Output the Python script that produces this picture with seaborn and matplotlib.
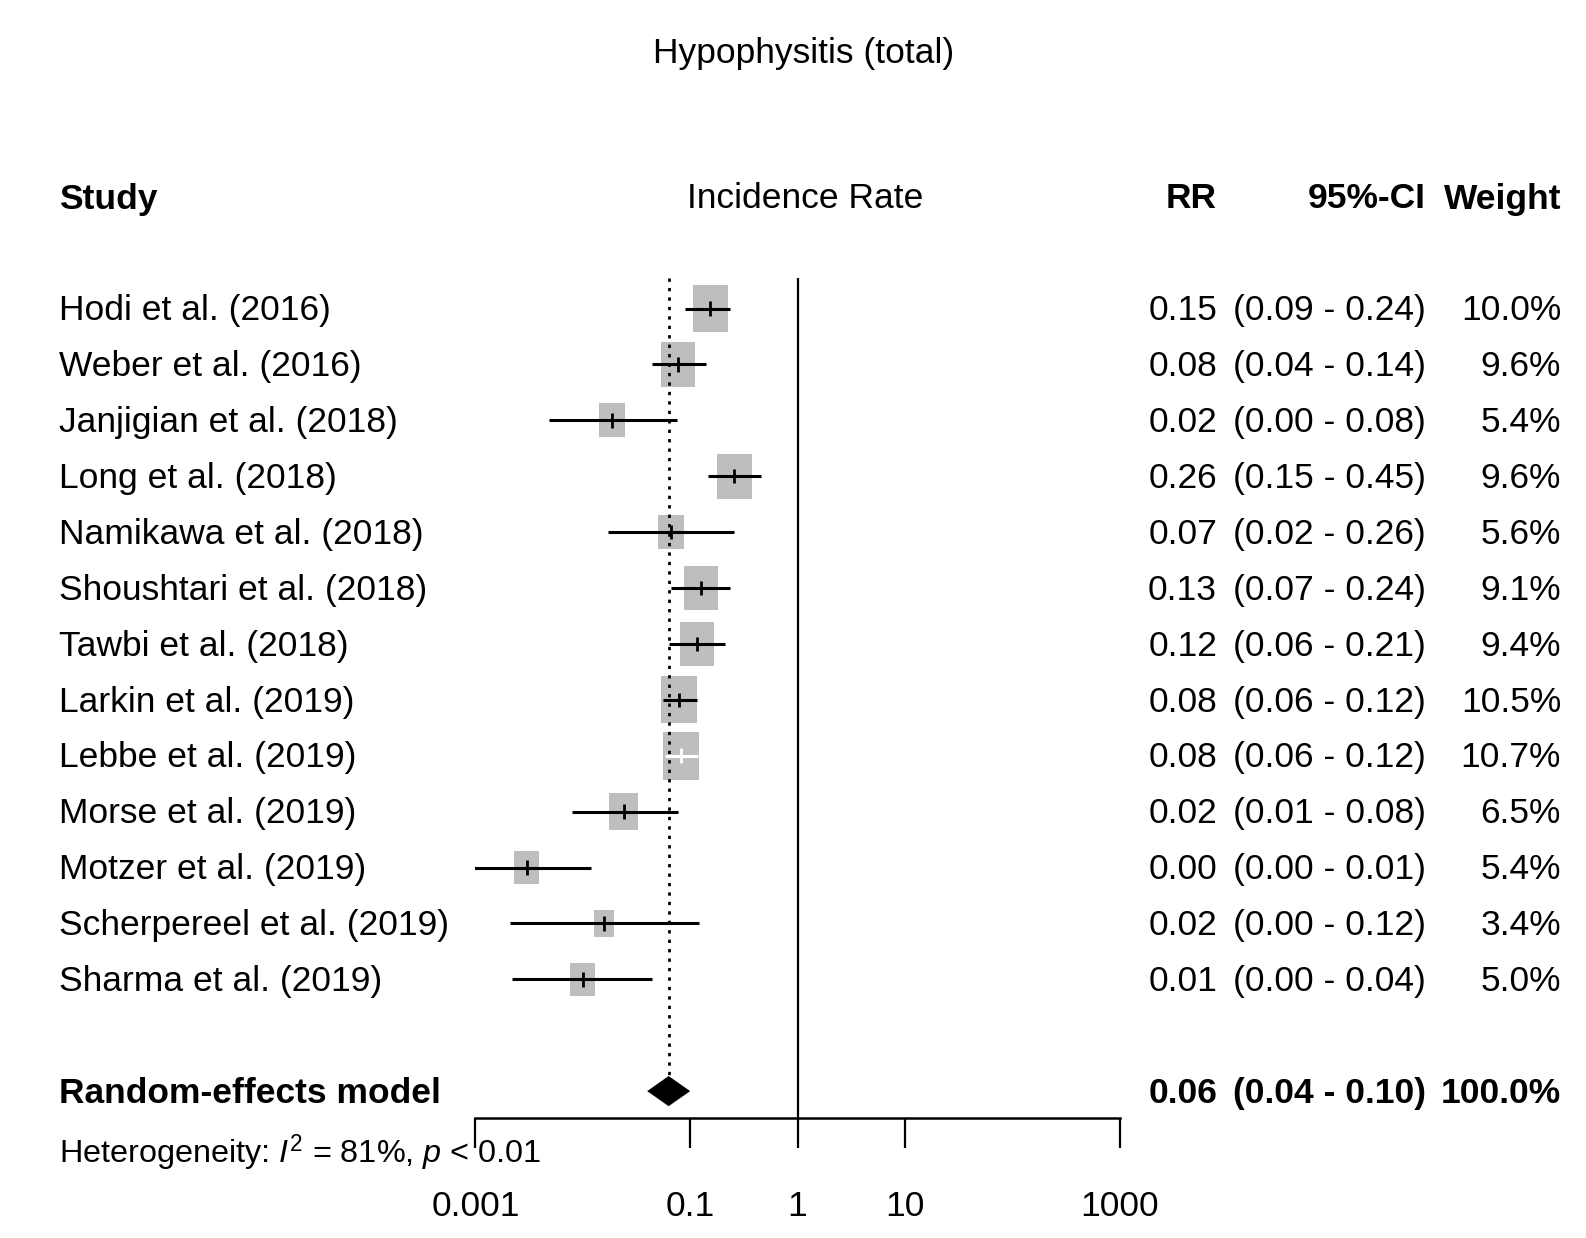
import numpy as np
import pandas as pd
import matplotlib
matplotlib.use("Agg")
import matplotlib.pyplot as plt
import matplotlib.transforms as mtransforms
import seaborn as sns

# ---------------- data ----------------
studies = ["Hodi et al. (2016)", "Weber et al. (2016)", "Janjigian et al. (2018)",
           "Long et al. (2018)", "Namikawa et al. (2018)", "Shoushtari et al. (2018)",
           "Tawbi et al. (2018)", "Larkin et al. (2019)", "Lebbe et al. (2019)",
           "Morse et al. (2019)", "Motzer et al. (2019)", "Scherpereel et al. (2019)",
           "Sharma et al. (2019)"]
rr = [0.154, 0.077, 0.0186, 0.258, 0.066, 0.126, 0.115, 0.078, 0.082, 0.024, 0.003, 0.0157, 0.010]
lower = [0.089, 0.044, 0.0048, 0.146, 0.017, 0.066, 0.063, 0.056, 0.058, 0.008, 0.00074, 0.0021, 0.0022]
upper = [0.236, 0.140, 0.076, 0.453, 0.258, 0.236, 0.212, 0.116, 0.118, 0.0766, 0.012, 0.121, 0.044]
weight = [10.0, 9.6, 5.4, 9.6, 5.6, 9.1, 9.4, 10.5, 10.7, 6.5, 5.4, 3.4, 5.0]

re_label = "Random-effects model"
re_rr, re_lower, re_upper, re_weight = 0.063, 0.0398, 0.100, 100.0
heterogeneity = r"Heterogeneity: $I^2$ = 81%, $p$ < 0.01"
title = "Hypophysitis (total)"
xticks = [0.001, 0.1, 1, 10, 1000]
xticklabels = ["0.001", "0.1", "1", "10", "1000"]

df = pd.DataFrame({"study": studies, "rr": rr, "lower": lower, "upper": upper,
                   "weight": weight, "row": np.arange(len(studies))})
re_row = len(studies) + 1

# ---------------- style ----------------
sns.set_theme(style="white")
fam = ["Liberation Sans", "DejaVu Sans"]
plt.rcParams["font.family"] = fam
plt.rcParams["text.color"] = "black"
plt.rcParams["mathtext.fontset"] = "custom"
plt.rcParams["mathtext.rm"] = "Liberation Sans"
plt.rcParams["mathtext.it"] = "Liberation Sans:italic"
plt.rcParams["mathtext.bf"] = "Liberation Sans:bold"
FS = 25.5

W, H = 1586, 1238
fig = plt.figure(figsize=(W / 100, H / 100), dpi=100)
ax_left, ax_right, ax_bottom_px = 475.4, 1119.7, 1118
ax = fig.add_axes([ax_left / W, (H - ax_bottom_px) / H, (ax_right - ax_left) / W, ax_bottom_px / H])
ax.set_xscale("log")
ax.set_xlim(0.001, 1000)
row0_px, row_step = 308.5, 55.9
ax.set_ylim((ax_bottom_px - row0_px) / row_step, -row0_px / row_step)

# boxes (area proportional to weight); boxes are taller than wide as in the reference
aspect = 0.76
box = [(-aspect / 2, -0.5), (aspect / 2, -0.5), (aspect / 2, 0.5), (-aspect / 2, 0.5), (-aspect / 2, -0.5)]
area_per_pct = 110.0
sns.scatterplot(data=df, x="rr", y="row", size="weight", sizes=(0, area_per_pct * max(weight)),
                size_norm=(0, max(weight)), marker=box, color="#bebebe", edgecolor="none",
                linewidth=0, legend=False, ax=ax, zorder=1)

# line colours: white if CI lies inside the box
fig.canvas.draw()
line_cols = []
for r, lo, hi, w in zip(rr, lower, upper, weight):
    half_px = np.sqrt(area_per_pct * w) * aspect / 2 * 100 / 72
    xr = ax.transData.transform((r, 0))[0]
    xl = ax.transData.transform((lo, 0))[0]
    xh = ax.transData.transform((hi, 0))[0]
    line_cols.append("white" if (xr - xl) <= half_px and (xh - xr) <= half_px else "black")

ax.hlines(df["row"], df["lower"], df["upper"], colors=line_cols, linewidth=2.2, zorder=3)
ax.vlines(df["rr"], df["row"] - 0.13, df["row"] + 0.13, colors=line_cols, linewidth=2.0, zorder=3)

# reference lines
top = -0.55
dh = 0.27
ax.vlines(1, top, (ax_bottom_px - row0_px) / row_step, colors="black", linewidth=1.6, zorder=2)
ax.vlines(re_rr, top, re_row - dh, colors="black", linewidth=2.0, linestyles=(0, (1.2, 2.2)), zorder=2)

# diamond
ax.fill([re_lower, re_rr, re_upper, re_rr], [re_row, re_row - dh, re_row, re_row + dh],
        color="black", zorder=4, linewidth=0)

# axis styling
for s in ["top", "left", "right"]:
    ax.spines[s].set_visible(False)
ax.spines["bottom"].set_color("black")
ax.spines["bottom"].set_linewidth(1.8)
ax.set_xticks(xticks)
ax.set_xticklabels(xticklabels)
ax.xaxis.set_minor_locator(matplotlib.ticker.NullLocator())
ax.tick_params(axis="x", direction="out", length=21.6, width=1.6, pad=30, labelsize=FS,
               colors="black", bottom=True)
ax.set_yticks([])
ax.set_xlabel("")
ax.set_ylabel("")
ax.patch.set_alpha(0)

# ---------------- texts ----------------
tr = mtransforms.blended_transform_factory(fig.transFigure, ax.transData)
def fx(px):
    return px / W

x_study, x_rr, x_ci, x_w = 59, 1217, 1426, 1561
for _, d in df.iterrows():
    y = d["row"] + 0.04
    ax.text(fx(x_study), y, d["study"], transform=tr, ha="left", va="center", fontsize=FS)
    ax.text(fx(x_rr), y, f"{d['rr']:.2f}", transform=tr, ha="right", va="center", fontsize=FS)
    ax.text(fx(x_ci), y, f"({d['lower']:.2f} - {d['upper']:.2f})", transform=tr, ha="right",
            va="center", fontsize=FS)
    ax.text(fx(x_w), y, f"{d['weight']:.1f}%", transform=tr, ha="right", va="center", fontsize=FS)

yre = re_row + 0.04
ax.text(fx(x_study), yre, re_label, transform=tr, ha="left", va="center", fontsize=FS,
        fontweight="bold")
ax.text(fx(x_rr), yre, f"{re_rr:.2f}", transform=tr, ha="right", va="center", fontsize=FS,
        fontweight="bold")
ax.text(fx(x_ci), yre, f"({re_lower:.2f} - {re_upper:.2f})", transform=tr, ha="right",
        va="center", fontsize=FS, fontweight="bold")
ax.text(fx(x_w), yre, f"{re_weight:.1f}%", transform=tr, ha="right", va="center",
        fontsize=FS, fontweight="bold")

fig.text(fx(x_study), 1 - 1153 / H, heterogeneity, ha="left", va="center", fontsize=23.3)

hy = 1 - 199 / H
fig.text(fx(x_study), hy, "Study", ha="left", va="center", fontsize=FS, fontweight="bold")
fig.text(fx(805), hy, "Incidence Rate", ha="center", va="center", fontsize=FS)
fig.text(fx(x_rr), hy, "RR", ha="right", va="center", fontsize=FS, fontweight="bold")
fig.text(fx(x_ci), hy, "95%-CI", ha="right", va="center", fontsize=FS, fontweight="bold")
fig.text(fx(x_w), hy, "Weight", ha="right", va="center", fontsize=FS, fontweight="bold")

fig.text(fx(804), 1 - 53 / H, title, ha="center", va="center", fontsize=FS)

fig.savefig("out.png", dpi=100)
